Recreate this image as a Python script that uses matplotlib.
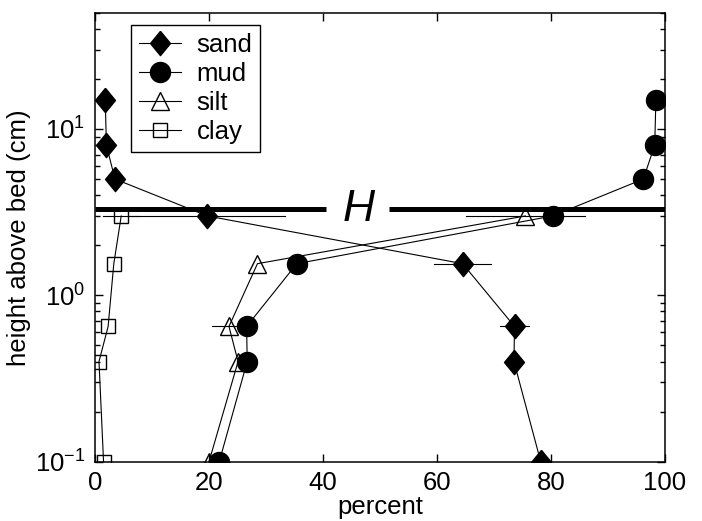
import matplotlib
matplotlib.use("Agg")
import matplotlib.pyplot as plt
from matplotlib.ticker import FixedLocator, LogLocator, NullFormatter

plt.rcParams['font.family'] = ['Liberation Sans', 'DejaVu Sans']
plt.rcParams['mathtext.default'] = 'regular'

# ---- data ----
heights_sm = [15, 8, 5, 3, 1.55, 0.65, 0.4, 0.1]
sand = [1.8, 2.0, 3.5, 19.7, 64.5, 73.6, 73.5, 78.2]
mud = [98.4, 98.2, 96.2, 80.3, 35.4, 26.6, 26.7, 21.8]
sand_err = [0, 0, 0, 13.6, 5.0, 2.5, 0, 0]

heights_sc = [3, 1.55, 0.65, 0.4, 0.1]
silt = [75.5, 28.5, 23.5, 25.1, 20.0]
clay = [4.6, 3.3, 2.3, 0.7, 1.5]
silt_err = [10.5, 0, 3.0, 0, 0]
clay_err = [3.2, 0, 0, 0, 0]

H_level = 3.3
H_gap = [40.6, 51.6]
H_text_x = 46.2

xticks = [0, 20, 40, 60, 80, 100]
yticks = [0.1, 1, 10]
ytick_labels = ['$10^{-1}$', '$10^{0}$', '$10^{1}$']

# ---- figure ----
fig = plt.figure(figsize=(7.02, 5.21), dpi=100)
ax = fig.add_axes([95/702, 1-461.7/521, 570/702, 449/521])
ax.set_yscale('log')
ax.set_xlim(0, 100)
ax.set_ylim(0.1, 50)

diamond = [(0, 1), (0.82, 0), (0, -1), (-0.82, 0), (0, 1)]
lw = 0.8
fs = 18.5

# error bars
for xs, hs, es in [(sand, heights_sm, sand_err), (silt, heights_sc, silt_err), (clay, heights_sc, clay_err)]:
    for x, h, e in zip(xs, hs, es):
        if e > 0:
            ax.plot([x - e, x + e], [h, h], color='black', lw=lw, zorder=2)

ax.plot(sand, heights_sm, color='black', lw=lw, marker=diamond, ms=17.5,
        mfc='black', mec='black', label='sand', zorder=3)
ax.plot(mud, heights_sm, color='black', lw=lw, marker='o', ms=14.4,
        mfc='black', mec='black', label='mud', zorder=3.5)
ax.plot(silt, heights_sc, color='black', lw=lw, marker='^', ms=13,
        mfc='none', mec='black', mew=1.0, label='silt', zorder=3)
ax.plot(clay, heights_sc, color='black', lw=lw, marker='s', ms=10.5,
        mfc='none', mec='black', mew=1.0, label='clay', zorder=3)

# H line
ax.plot([0, H_gap[0]], [H_level, H_level], color='black', lw=3.6, solid_capstyle='butt', zorder=4)
ax.plot([H_gap[1], 100], [H_level, H_level], color='black', lw=3.6, solid_capstyle='butt', zorder=4)
ax.text(H_text_x, H_level, 'H', style='italic', fontsize=32, ha='center', va='center', zorder=5)

ax.set_xticks(xticks)
ax.set_xticklabels([str(t) for t in xticks])
ax.yaxis.set_major_locator(FixedLocator(yticks))
ax.set_yticklabels(ytick_labels)
ax.yaxis.set_minor_locator(LogLocator(base=10, subs=range(2, 10)))
ax.yaxis.set_minor_formatter(NullFormatter())

ax.tick_params(axis='both', which='major', direction='in', length=6, width=1,
               top=True, right=True, labelsize=fs, pad=7)
ax.tick_params(axis='y', which='minor', direction='in', length=3.5, width=1,
               left=True, right=True)
for s in ax.spines.values():
    s.set_linewidth(1.1)

ax.set_xlabel('percent', fontsize=fs, labelpad=0)
ax.set_ylabel('height above bed (cm)', fontsize=fs, labelpad=3)

leg = ax.legend(loc='upper left', bbox_to_anchor=((131-95)/570, 0.9726), borderaxespad=0,
                fontsize=fs, frameon=True, fancybox=False, framealpha=1,
                edgecolor='black', handlelength=1.65, handletextpad=0.6,
                labelspacing=0.2, borderpad=0.3, numpoints=1)
leg.get_frame().set_linewidth(1.0)

fig.savefig('out.png', dpi=100)
